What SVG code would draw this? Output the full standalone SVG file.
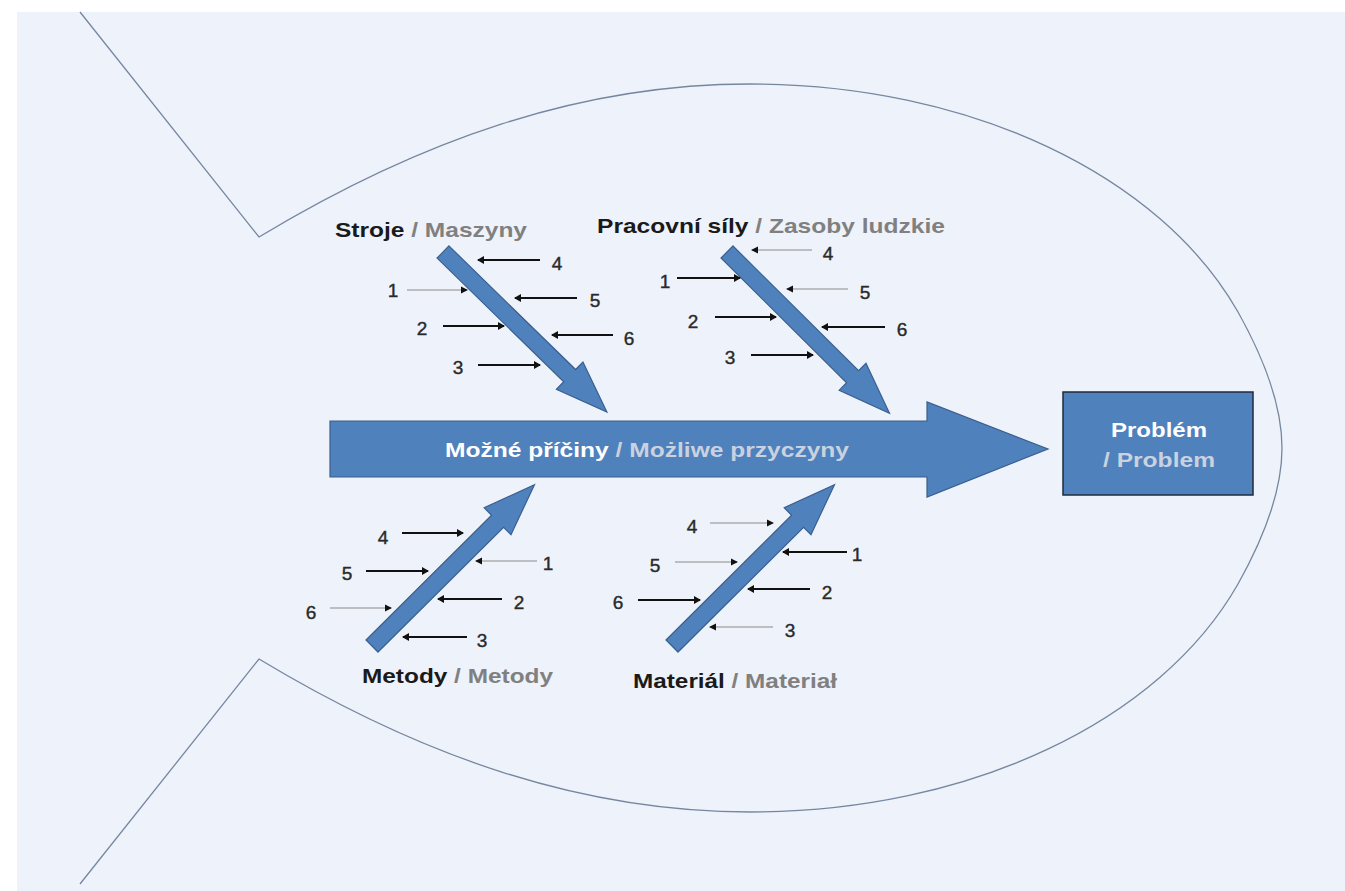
<svg xmlns="http://www.w3.org/2000/svg" width="1345" height="891" viewBox="0 0 1345 891">
<style>
.bg{fill:#eef2fa}
.fish{fill:none;stroke:#7587a0;stroke-width:1.3}
.bone{fill:#4f81bd;stroke:#3a5f8e;stroke-width:1.2}
.lbl{font-family:"Liberation Sans",Arial,sans-serif;font-weight:bold;font-size:21px}
.blk{fill:#1a1a1a}
.gry{fill:#808080}
.wht{fill:#ffffff}
.lgt{fill:#c9d2de}
.num{font-family:"Liberation Sans",Arial,sans-serif;font-size:19px;fill:#2a2a2a;stroke:#2a2a2a;stroke-width:0.4;text-anchor:middle;dominant-baseline:central}
.dk{stroke:#111;stroke-width:2;fill:none;marker-end:url(#ah)}
.lt{stroke:#8a8a8a;stroke-width:1.2;fill:none;marker-end:url(#ah2)}
</style>
<defs>
<marker id="ah" markerWidth="8" markerHeight="8" refX="6" refY="4" orient="auto" markerUnits="userSpaceOnUse">
<path d="M0,0 L7,4 L0,8 Z" fill="#111"/>
</marker>
<marker id="ah2" markerWidth="8" markerHeight="8" refX="6" refY="4" orient="auto" markerUnits="userSpaceOnUse">
<path d="M0,0.5 L7,4 L0,7.5 Z" fill="#111"/>
</marker>
<polygon id="bonearrow" points="0,-8.5 177,-8.5 177,-19 229,0 177,19 177,8.5 0,8.5"/>
</defs>
<rect class="bg" x="17" y="12" width="1328" height="879"/>
<g id="fish-outline">
<path class="fish" d="M80,12 L259,237 C420,140 580,84 750,84 C970,84 1160,175 1238,312 C1266,362 1282,410 1282,448 C1282,486 1266,534 1238,584 C1160,721 970,812 750,812 C580,812 420,756 259,659 L80,884"/>
</g>
<g id="spine">
<polygon class="bone" points="330,421 927,421 927,402 1048,449 927,497 927,477 330,477"/>
<text class="lbl" x="647" y="457" text-anchor="middle" textLength="404" lengthAdjust="spacingAndGlyphs"><tspan class="wht">Možné příčiny</tspan><tspan class="lgt"> / Możliwe przyczyny</tspan></text>
</g>
<g id="problem">
<rect x="1063" y="392" width="190" height="103" fill="#4f81bd" stroke="#1f2b3a" stroke-width="1.5"/>
<text class="lbl wht" x="1159" y="437" text-anchor="middle" textLength="96" lengthAdjust="spacingAndGlyphs">Problém</text>
<text class="lbl lgt" x="1159" y="467" text-anchor="middle" textLength="112" lengthAdjust="spacingAndGlyphs">/ Problem</text>
</g>
<g id="stroje">
<use href="#bonearrow" class="bone" transform="translate(443,252) rotate(44.3)"/>
<text class="lbl" x="335" y="237" textLength="192" lengthAdjust="spacingAndGlyphs"><tspan class="blk">Stroje</tspan><tspan class="gry"> / Maszyny</tspan></text>
<text class="num" x="557" y="263">4</text>
<text class="num" x="393" y="290">1</text>
<text class="num" x="595" y="300">5</text>
<text class="num" x="422" y="328">2</text>
<text class="num" x="629" y="338">6</text>
<text class="num" x="458" y="367">3</text>
</g>
<g id="pracovni">
<use href="#bonearrow" class="bone" transform="translate(727,252) rotate(44.8)"/>
<text class="lbl" x="597" y="233" textLength="348" lengthAdjust="spacingAndGlyphs"><tspan class="blk">Pracovní síly</tspan><tspan class="gry"> / Zasoby ludzkie</tspan></text>
<text class="num" x="828" y="253">4</text>
<text class="num" x="665" y="281">1</text>
<text class="num" x="865" y="292">5</text>
<text class="num" x="693" y="321">2</text>
<text class="num" x="902" y="329">6</text>
<text class="num" x="730" y="357">3</text>
</g>
<g id="metody">
<use href="#bonearrow" class="bone" transform="translate(372,646) rotate(-44.8)"/>
<text class="lbl" x="362" y="683" textLength="191" lengthAdjust="spacingAndGlyphs"><tspan class="blk">Metody</tspan><tspan class="gry"> / Metody</tspan></text>
<text class="num" x="383" y="537">4</text>
<text class="num" x="548" y="563">1</text>
<text class="num" x="347" y="573">5</text>
<text class="num" x="519" y="602">2</text>
<text class="num" x="311" y="612">6</text>
<text class="num" x="482" y="640">3</text>
</g>
<g id="material">
<use href="#bonearrow" class="bone" transform="translate(672,646) rotate(-44.8)"/>
<text class="lbl" x="633" y="688" textLength="204" lengthAdjust="spacingAndGlyphs"><tspan class="blk">Materiál</tspan><tspan class="gry"> / Materiał</tspan></text>
<text class="num" x="692" y="526">4</text>
<text class="num" x="857" y="554">1</text>
<text class="num" x="655" y="565">5</text>
<text class="num" x="827" y="592">2</text>
<text class="num" x="618" y="602">6</text>
<text class="num" x="790" y="630">3</text>
</g>
<g id="connectors">
<line class="dk" x1="540" y1="260" x2="478" y2="260"/>
<line class="lt" x1="407" y1="290" x2="467" y2="290"/>
<line class="dk" x1="577" y1="298" x2="515" y2="298"/>
<line class="dk" x1="443" y1="326" x2="504" y2="326"/>
<line class="dk" x1="613" y1="335" x2="552" y2="335"/>
<line class="dk" x1="478" y1="365" x2="540" y2="365"/>
<line class="lt" x1="812" y1="250" x2="752" y2="250"/>
<line class="dk" x1="677" y1="278" x2="740" y2="278"/>
<line class="lt" x1="848" y1="289" x2="787" y2="289"/>
<line class="dk" x1="715" y1="317" x2="776" y2="317"/>
<line class="dk" x1="885" y1="327" x2="822" y2="327"/>
<line class="dk" x1="751" y1="355" x2="813" y2="355"/>
<line class="dk" x1="402" y1="533" x2="463" y2="533"/>
<line class="lt" x1="537" y1="561" x2="476" y2="561"/>
<line class="dk" x1="366" y1="571" x2="428" y2="571"/>
<line class="dk" x1="502" y1="599" x2="438" y2="599"/>
<line class="lt" x1="330" y1="608" x2="391" y2="608"/>
<line class="dk" x1="467" y1="637" x2="403" y2="637"/>
<line class="lt" x1="710" y1="523" x2="773" y2="523"/>
<line class="dk" x1="847" y1="552" x2="783" y2="552"/>
<line class="lt" x1="675" y1="562" x2="737" y2="562"/>
<line class="dk" x1="810" y1="589" x2="748" y2="589"/>
<line class="dk" x1="638" y1="600" x2="700" y2="600"/>
<line class="lt" x1="773" y1="627" x2="710" y2="627"/>
</g>
</svg>
